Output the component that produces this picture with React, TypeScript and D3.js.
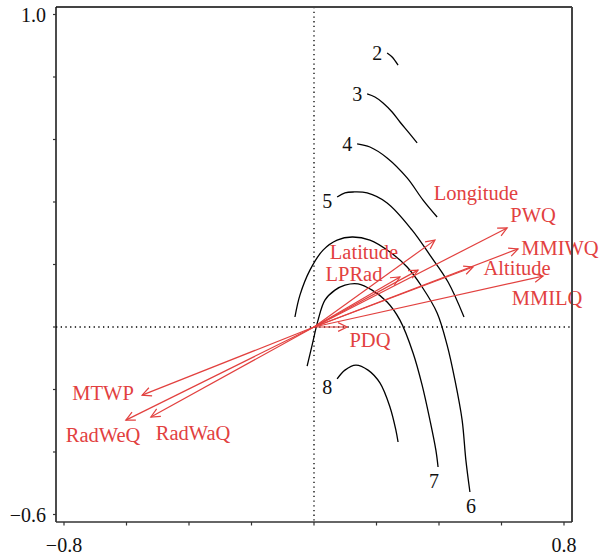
import React from "react";
import * as d3 from "d3";

// biplot: environmental vectors + fitted contour lines
const varNames = ["Longitude", "PWQ", "MMIWQ", "Altitude", "MMILQ", "Latitude", "LPRad", "PDQ", "MTWP", "RadWeQ", "RadWaQ"];
const varX = [0.387, 0.618, 0.653, 0.509, 0.733, 0.333, 0.275, 0.106, -0.55, -0.602, -0.522];
const varY = [0.278, 0.317, 0.25, 0.192, 0.163, 0.182, 0.16, 0.0, -0.218, -0.298, -0.288];
const labelX = [0.518, 0.701, 0.787, 0.65, 0.746, 0.16, 0.128, 0.179, -0.675, -0.675, -0.387];
const labelY = [0.429, 0.358, 0.253, 0.189, 0.093, 0.241, 0.17, -0.042, -0.211, -0.346, -0.339];

const contourLevels = ["2", "3", "4", "5", "6", "7", "8"];
const contour2 = [[0.234, 0.877], [0.25, 0.864], [0.269, 0.838]];
const contour3 = [[0.17, 0.746], [0.195, 0.736], [0.221, 0.717], [0.25, 0.688], [0.275, 0.656], [0.304, 0.621], [0.33, 0.589]];
const contour4 = [[0.138, 0.586], [0.179, 0.576], [0.234, 0.541], [0.298, 0.477], [0.349, 0.406], [0.394, 0.352]];
const contour5 = [[0.074, 0.416], [0.099, 0.429], [0.125, 0.432], [0.17, 0.429], [0.234, 0.397], [0.314, 0.31], [0.371, 0.23], [0.429, 0.144], [0.48, 0.032]];
const contour6 = [[-0.061, 0.032], [-0.045, 0.102], [-0.013, 0.182], [0.029, 0.246], [0.074, 0.278], [0.122, 0.288], [0.179, 0.278], [0.243, 0.24], [0.298, 0.192], [0.346, 0.128], [0.394, 0.045], [0.426, -0.058], [0.451, -0.17], [0.474, -0.298], [0.486, -0.426], [0.499, -0.528]];
const contour7 = [[-0.022, -0.125], [-0.006, -0.058], [0.013, 0.022], [0.035, 0.086], [0.067, 0.118], [0.099, 0.134], [0.141, 0.138], [0.186, 0.118], [0.234, 0.08], [0.275, 0.022], [0.317, -0.083], [0.346, -0.186], [0.371, -0.298], [0.39, -0.394], [0.397, -0.448]];
const contour8 = [[0.074, -0.166], [0.099, -0.138], [0.134, -0.122], [0.173, -0.138], [0.211, -0.179], [0.243, -0.256], [0.262, -0.33], [0.269, -0.368]];
const contours = [contour2, contour3, contour4, contour5, contour6, contour7, contour8];

const xTicks = [-0.8, -0.6, -0.4, -0.2, 0, 0.2, 0.4, 0.6, 0.8];
const yTicks = [-0.6, -0.4, -0.2, 0, 0.2, 0.4, 0.6, 0.8, 1.0];
const xTickLabels = ["−0.8", "0.8"];
const yTickLabels = ["−0.6", "1.0"];

const W = 601;
const H = 556;
const red = "#e2413f";
const font = "'Liberation Serif', 'DejaVu Serif', serif";

const App = () => {
  const x = d3.scaleLinear().domain([-0.8, 0.8]).range([64, 564]);
  const y = d3.scaleLinear().domain([-0.6, 1.0]).range([514.5, 14.5]);
  const left = 56, right = 572, top = 7, bottom = 522;

  const line = d3
    .line<number[]>()
    .x(d => x(d[0]))
    .y(d => y(d[1]))
    .curve(d3.curveCatmullRom.alpha(0.5));

  // arrow head as open V
  const head = (x0: number, y0: number, x1: number, y1: number) => {
    const a = Math.atan2(y1 - y0, x1 - x0);
    const len = 10, spread = 0.45;
    const p1 = [x1 - len * Math.cos(a - spread), y1 - len * Math.sin(a - spread)];
    const p2 = [x1 - len * Math.cos(a + spread), y1 - len * Math.sin(a + spread)];
    return `M${p1[0]},${p1[1]}L${x1},${y1}L${p2[0]},${p2[1]}`;
  };

  return (
    <svg width={W} height={H} style={{ position: "absolute", left: 0, top: 0 }} fontFamily={font}>
      <rect width={W} height={H} fill="white" />

      {/* zero lines */}
      <line x1={x(0)} x2={x(0)} y1={top} y2={bottom} stroke="#000" strokeWidth={1.3} strokeDasharray="1.3,3.4" />
      <line x1={left} x2={right} y1={y(0)} y2={y(0)} stroke="#000" strokeWidth={1.3} strokeDasharray="1.3,3.4" />

      {/* contours */}
      {contours.map((c, i) => (
        <path key={i} d={line(c) || ""} fill="none" stroke="#000" strokeWidth={1.3} />
      ))}
      {contours.map((c, i) => {
        const atEnd = contourLevels[i] === "6" || contourLevels[i] === "7";
        const p = atEnd ? c[c.length - 1] : c[0];
        const dx = atEnd ? (contourLevels[i] === "6" ? 1 : -4) : -10;
        const dy = atEnd ? 14 : contourLevels[i] === "8" ? 8 : contourLevels[i] === "5" ? 4 : 0;
        return (
          <text key={i} x={x(p[0]) + dx} y={y(p[1]) + dy} textAnchor="middle" dominantBaseline="central" fontSize={20} fill="#111">
            {contourLevels[i]}
          </text>
        );
      })}

      {/* vectors */}
      {varNames.map((n, i) => (
        <g key={n} stroke={red} strokeWidth={1.2} fill="none">
          <line x1={x(0)} y1={y(0)} x2={x(varX[i])} y2={y(varY[i])} />
          <path d={head(x(0), y(0), x(varX[i]), y(varY[i]))} />
        </g>
      ))}
      {varNames.map((n, i) => (
        <text key={n} x={x(labelX[i])} y={y(labelY[i])} textAnchor="middle" dominantBaseline="central" fontSize={20.5} fill={red}>
          {n}
        </text>
      ))}

      {/* frame */}
      <line x1={left} x2={right} y1={top} y2={top} stroke="#444" strokeWidth={2} />
      <line x1={right} x2={right} y1={top} y2={bottom} stroke="#444" strokeWidth={2} />
      <line x1={left} x2={left} y1={top} y2={bottom} stroke="#111" strokeWidth={1.5} />
      <line x1={left} x2={right} y1={bottom} y2={bottom} stroke="#333" strokeWidth={1.5} />

      {/* ticks */}
      {xTicks.map(t => (
        <line key={t} x1={x(t)} x2={x(t)} y1={bottom} y2={bottom + 3.5} stroke="#333" strokeWidth={1.2} />
      ))}
      {yTicks.map(t => (
        <line key={t} x1={left} x2={left - 3} y1={y(t)} y2={y(t)} stroke="#333" strokeWidth={1.2} />
      ))}
      <text x={x(-0.8)} y={545} textAnchor="middle" dominantBaseline="central" fontSize={20} fill="#111">{xTickLabels[0]}</text>
      <text x={x(0.8)} y={545} textAnchor="middle" dominantBaseline="central" fontSize={20} fill="#111">{xTickLabels[1]}</text>
      <text x={46} y={y(-0.6)} textAnchor="end" dominantBaseline="central" fontSize={20} fill="#111">{yTickLabels[0]}</text>
      <text x={46} y={y(1.0)} textAnchor="end" dominantBaseline="central" fontSize={20} fill="#111">{yTickLabels[1]}</text>
    </svg>
  );
};

export default App;
